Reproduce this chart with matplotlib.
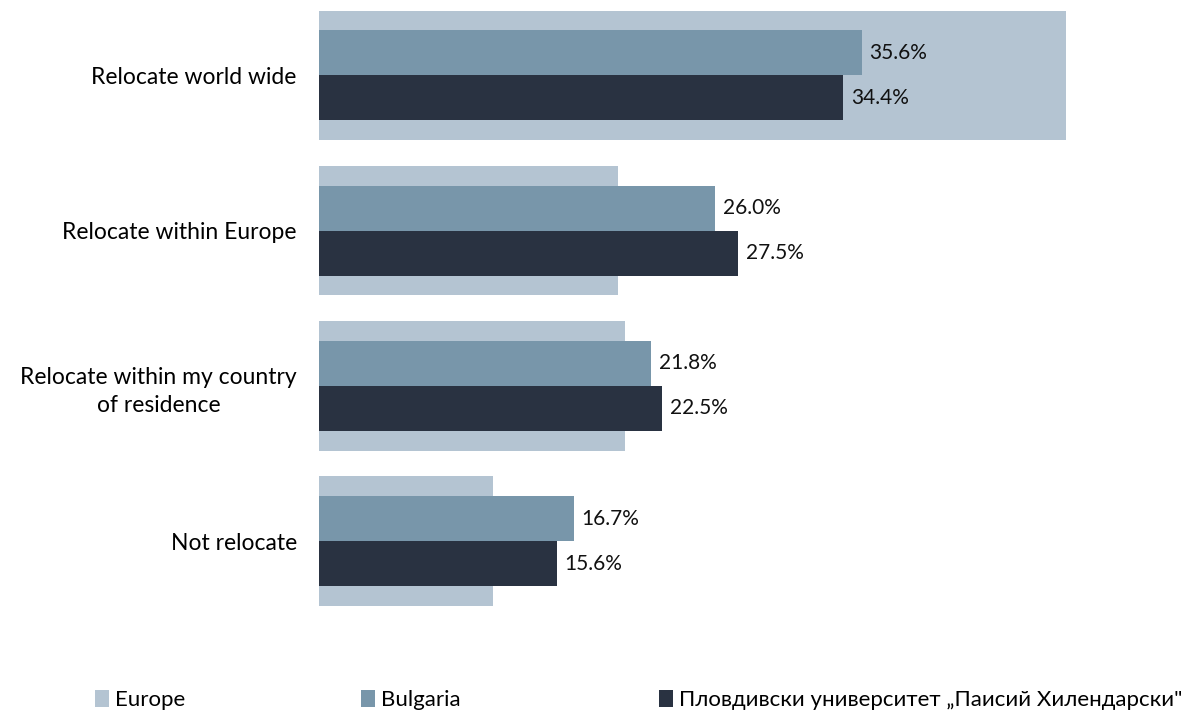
import matplotlib
matplotlib.use("Agg")
import matplotlib.pyplot as plt
from matplotlib.patches import Patch

categories = ["Relocate world wide", "Relocate within Europe",
              "Relocate within my country\nof residence", "Not relocate"]
europe = [49.0, 19.6, 20.1, 11.4]
bulgaria = [35.6, 26.0, 21.8, 16.7]
plovdiv = [34.4, 27.5, 22.5, 15.6]
series_names = ["Europe", "Bulgaria", "Пловдивски университет „Паисий Хилендарски\""]

colors = ["#B4C4D2", "#7896AA", "#293241"]

plt.rcParams["font.family"] = ["Lato", "DejaVu Sans"]

fig = plt.figure(figsize=(11.89, 7.15), dpi=100)
ax = fig.add_axes([319 / 1189, (715 - 618.75) / 715, 869 / 1189, 621 / 715])

y = list(range(len(categories)))
ax.barh(y, europe, height=0.835, color=colors[0], zorder=1)
ax.barh([v - 0.145 for v in y], bulgaria, height=0.29, color=colors[1], zorder=2)
ax.barh([v + 0.145 for v in y], plovdiv, height=0.29, color=colors[2], zorder=2)

for i in y:
    ax.text(bulgaria[i] + 0.5, i - 0.145, f"{bulgaria[i]:.1f}%", va="center",
            ha="left", fontsize=15, color="#111111", zorder=3)
    ax.text(plovdiv[i] + 0.5, i + 0.145, f"{plovdiv[i]:.1f}%", va="center",
            ha="left", fontsize=15, color="#111111", zorder=3)

ax.set_xlim(0, 57)
ax.set_ylim(3.5, -0.5)
ax.set_yticks(y)
ax.set_yticklabels(categories, fontsize=16.5, multialignment="center", linespacing=1.4)
ax.tick_params(axis="y", length=0, pad=16)
ax.set_xticks([])
for s in ax.spines.values():
    s.set_visible(False)

# one legend entry per column, spread along the bottom edge
legend_x = [95, 361, 659]
for name, col, lx in zip(series_names, colors, legend_x):
    fig.legend([Patch(facecolor=col, edgecolor="none")], [name], loc="center left",
               bbox_to_anchor=(lx / 1189, 1 - 700 / 715), frameon=False, fontsize=16,
               handlelength=0.65, handleheight=0.8, handletextpad=0.25,
               borderaxespad=0, borderpad=0)

fig.savefig("out.png", dpi=100)
